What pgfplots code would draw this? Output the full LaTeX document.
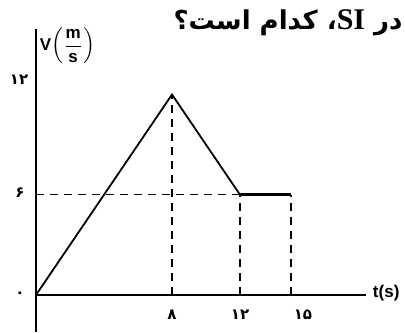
\documentclass[border=0pt]{standalone}
\usepackage{pgfplots}
\pgfplotsset{compat=1.18}
\usepackage{fontspec}
\setmainfont{Liberation Sans}
\newfontfamily\fa[Script=Arabic]{DejaVu Sans}
\newfontfamily\serifb{Liberation Serif}
\TeXXeTstate=1

\begin{document}
\begin{tikzpicture}
\begin{axis}[
  name=ax,
  scale only axis,
  width=202.5pt, height=166pt,
  xmin=-2.118, xmax=21.706,
  ymin=-2.216, ymax=17.66,
  hide axis,
  clip=false,
]
% axes
\addplot[black, line width=1pt] coordinates {(0,-2.2)(0,15.9)};
\addplot[black, line width=1pt] coordinates {(0,0)(19.4,0)};
% guide lines
\addplot[black, line width=0.7pt, dash pattern=on 4pt off 3pt] coordinates {(0,6)(12,6)};
\addplot[black, line width=0.7pt, dash pattern=on 4pt off 3pt] coordinates {(8,0)(8,12)};
\addplot[black, line width=0.7pt, dash pattern=on 4pt off 3pt] coordinates {(12,0)(12,6)};
\addplot[black, line width=0.7pt, dash pattern=on 4pt off 3pt] coordinates {(15,0)(15,6)};
% velocity
\addplot[black, line width=0.9pt] coordinates {(0,0)(8,12)(12,6)};
\addplot[black, line width=1.6pt] coordinates {(12,6)(15,6)};
% labels
\node[font=\fa\bfseries\fontsize{7.5}{8}\selectfont] at (axis cs:-1.0,12.9) {۱۲};
\node[font=\fa\bfseries\fontsize{7.5}{8}\selectfont] at (axis cs:-0.95,6.1) {۶};
\node[font=\fa\bfseries\fontsize{7.5}{8}\selectfont] at (axis cs:-0.95,0) {۰};
\node[font=\fa\bfseries\fontsize{7.5}{8}\selectfont] at (axis cs:8,-1.2) {۸};
\node[font=\fa\bfseries\fontsize{7.5}{8}\selectfont] at (axis cs:12,-1.2) {۱۲};
\node[font=\fa\bfseries\fontsize{7.5}{8}\selectfont] at (axis cs:15.7,-1.2) {۱۵};
\node[font=\bfseries\fontsize{8.5}{9}\selectfont] at (axis cs:20.6,0.1) {t(s)};
\node[font=\bfseries\fontsize{8.5}{9}\selectfont] at (axis cs:1.85,14.9) {V$\left(\displaystyle\frac{\mathbf{m}}{\mathbf{s}}\right)$};
\node[anchor=east, font=\fa\bfseries\fontsize{13}{15}\selectfont, inner sep=1pt] at (axis cs:21.7,16.3)
  {\beginR در {\serifb\bfseries\fontsize{15}{16}\selectfont SI}، کدام است؟\endR};
\end{axis}
\pgfresetboundingbox
\path (ax.south west) rectangle (ax.north east);
\end{tikzpicture}
\end{document}
